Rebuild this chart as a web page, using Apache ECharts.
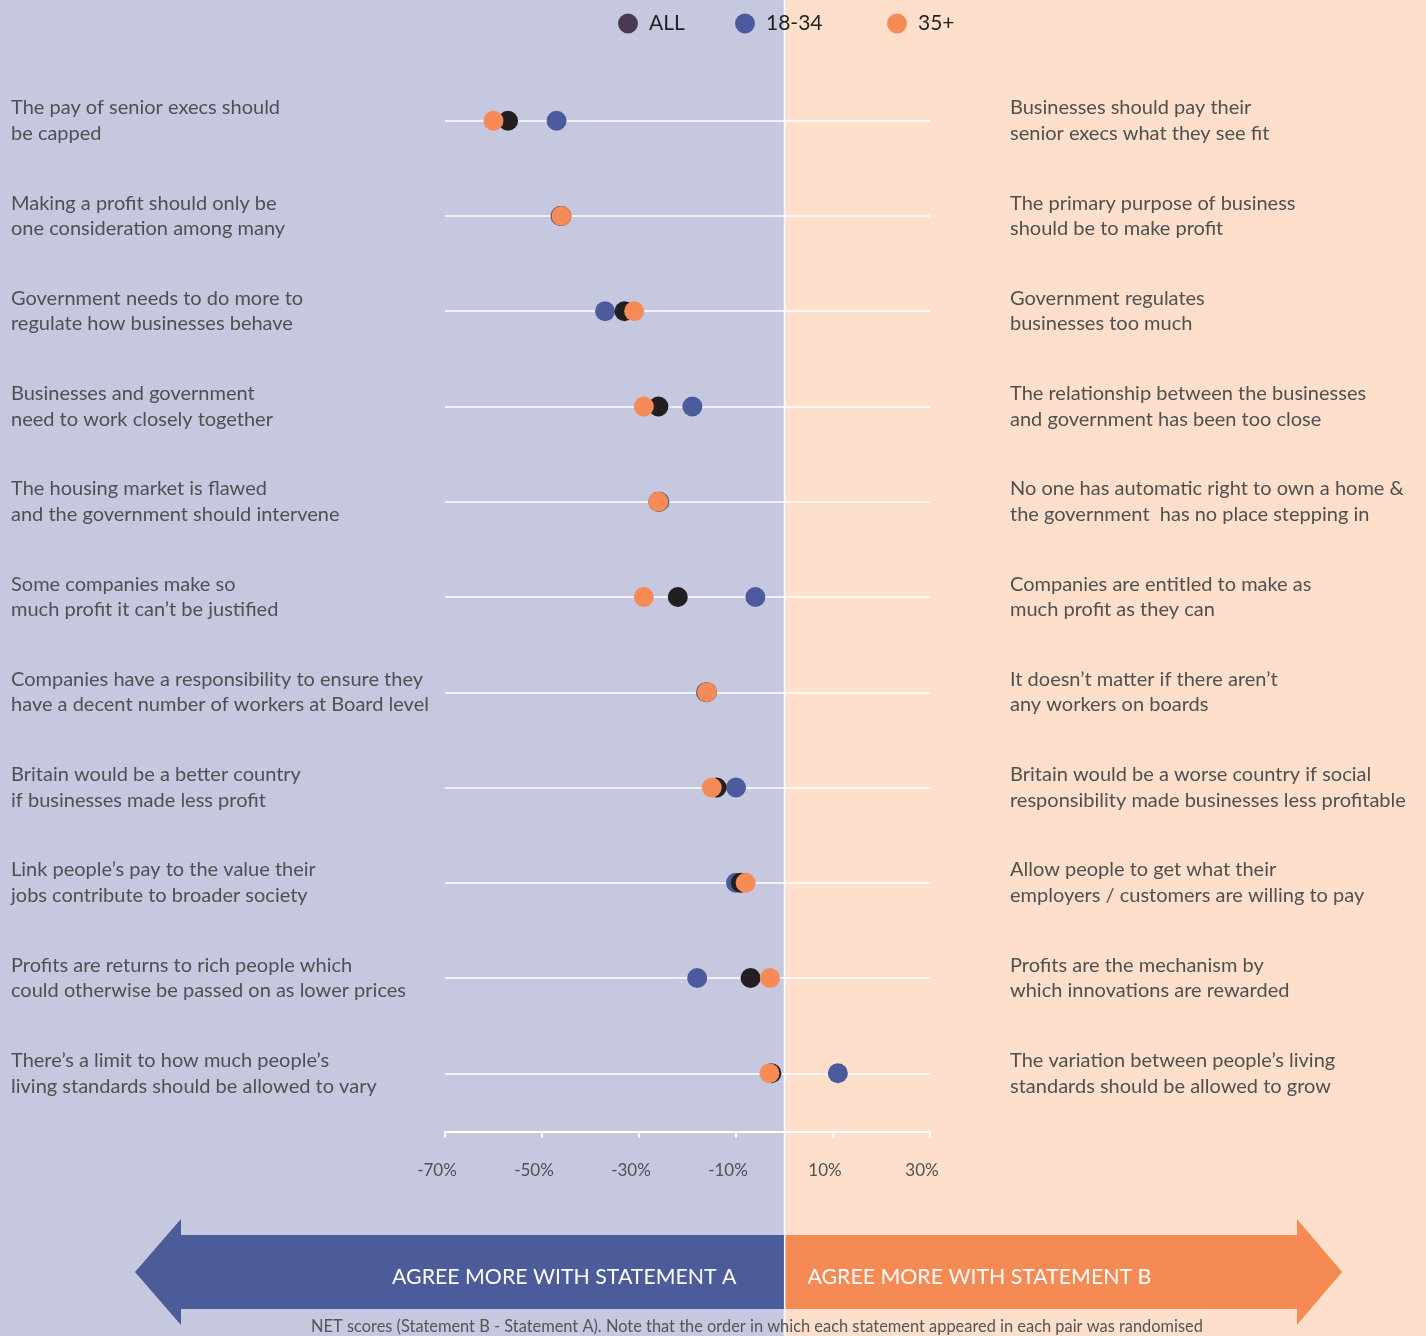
<!DOCTYPE html>
<html>
<head>
<meta charset="utf-8">
<script src="https://cdn.jsdelivr.net/npm/echarts@6/dist/echarts.min.js"></script>
<style>
html, body { margin: 0; padding: 0; }
#container { width: 1426px; height: 1336px; }
</style>
</head>
<body>
<div id="container"></div>
<script>
var statementsA = [
    "The pay of senior execs should\nbe capped",
    "Making a profit should only be\none consideration among many",
    "Government needs to do more to\nregulate how businesses behave",
    "Businesses and government\nneed to work closely together",
    "The housing market is flawed\nand the government should intervene",
    "Some companies make so\nmuch profit it can\u2019t be justified",
    "Companies have a responsibility to ensure they\nhave a decent number of workers at Board level",
    "Britain would be a better country\nif businesses made less profit",
    "Link people\u2019s pay to the value their\njobs contribute to broader society",
    "Profits are returns to rich people which\ncould otherwise be passed on as lower prices",
    "There\u2019s a limit to how much people\u2019s\nliving standards should be allowed to vary"
];
var statementsB = [
    "Businesses should pay their\nsenior execs what they see fit",
    "The primary purpose of business\nshould be to make profit",
    "Government regulates\nbusinesses too much",
    "The relationship between the businesses\nand government has been too close",
    "No one has automatic right to own a home &\nthe government  has no place stepping in",
    "Companies are entitled to make as\nmuch profit as they can",
    "It doesn\u2019t matter if there aren\u2019t\nany workers on boards",
    "Britain would be a worse country if social\nresponsibility made businesses less profitable",
    "Allow people to get what their\nemployers / customers are willing to pay",
    "Profits are the mechanism by\nwhich innovations are rewarded",
    "The variation between people\u2019s living\nstandards should be allowed to grow"
];
// NET scores, %
var allValues   = [-57, -46, -33, -26, -26, -22, -16, -14, -9, -7, -2.7];
var youngValues = [-47, -46.2, -37, -19, -25.8, -6, -16.2, -10, -10, -18, 11];
var olderValues = [-60, -46, -31, -29, -26, -29, -16, -15, -8, -3, -3.1];
var axisMin = -70, axisMax = 30, axisStep = 20;

var font = 'Lato, "Noto Sans", sans-serif';

function toPoints(values) {
    var pts = [];
    for (var i = 0; i < values.length; i++) {
        pts.push([values[i], i]);
    }
    return pts;
}

// one legend box per group, the gaps in the original are uneven
function legendFor(name, left, iconColor) {
    var item = { name: name };
    if (iconColor) {
        item.itemStyle = { color: iconColor };
    }
    return {
        left: left,
        top: 13,
        padding: 0,
        icon: 'circle',
        itemWidth: 20,
        itemHeight: 20,
        textStyle: { color: '#231f20', fontSize: 21, fontFamily: font, padding: [0, 0, 0, 6] },
        data: [item]
    };
}

var dom = document.getElementById("container");
var myChart = echarts.init(dom);

var option = {
    animation: false,
    grid: {
        left: 445,
        right: 496,
        top: 120.7,
        bottom: 262.7
    },
    legend: [
        legendFor('ALL', 618, '#4a3a4f'),
        legendFor('18-34', 735),
        legendFor('35+', 887)
    ],
    xAxis: {
        type: 'value',
        min: axisMin,
        max: axisMax,
        interval: axisStep,
        position: 'bottom',
        offset: 58.5,
        axisLine: { show: true, lineStyle: { color: '#ffffff', width: 2 } },
        axisTick: { show: true, length: 6, lineStyle: { color: '#ffffff', width: 2 } },
        axisLabel: {
            formatter: '{value}%',
            color: '#505050',
            fontSize: 17,
            fontFamily: font,
            margin: 30,
            padding: [0, 16, 0, 0]
        },
        splitLine: { show: false }
    },
    yAxis: [{
        type: 'category',
        data: statementsA,
        inverse: true,
        boundaryGap: false,
        position: 'left',
        axisLine: { show: false },
        axisTick: { show: false },
        axisLabel: {
            interval: 0,
            align: 'left',
            margin: 434,
            color: '#505050',
            fontSize: 20,
            lineHeight: 25.5,
            fontFamily: font
        },
        splitLine: { show: true, interval: 0, lineStyle: { color: '#ffffff', width: 1.5 } }
    }, {
        type: 'category',
        data: statementsB,
        inverse: true,
        boundaryGap: false,
        position: 'right',
        axisLine: { show: false },
        axisTick: { show: false },
        axisLabel: {
            interval: 0,
            align: 'left',
            margin: 80,
            color: '#505050',
            fontSize: 20,
            lineHeight: 25.5,
            fontFamily: font
        },
        splitLine: { show: false }
    }],
    series: [{
        name: '18-34',
        type: 'scatter',
        yAxisIndex: 0,
        symbolSize: 20,
        itemStyle: { color: '#4b5b9d', opacity: 1 },
        z: 2,
        data: toPoints(youngValues)
    }, {
        name: 'ALL',
        type: 'scatter',
        yAxisIndex: 0,
        symbolSize: 20,
        itemStyle: { color: '#231f20', opacity: 1 },
        z: 3,
        data: toPoints(allValues)
    }, {
        name: '35+',
        type: 'scatter',
        yAxisIndex: 0,
        symbolSize: 20,
        itemStyle: { color: '#f68b57', opacity: 1 },
        z: 4,
        data: toPoints(olderValues)
    }]
};
myChart.setOption(option);

// backgrounds and arrows hang off the zero line of the axis
var x0 = myChart.convertToPixel({ xAxisIndex: 0 }, 0);
var W = 1426, H = 1336;
myChart.setOption({
    graphic: [
        { type: 'rect', z: -20, silent: true, shape: { x: 0, y: 0, width: x0, height: H }, style: { fill: '#c5c8df' } },
        { type: 'rect', z: -20, silent: true, shape: { x: x0, y: 0, width: W - x0, height: H }, style: { fill: '#fddfcb' } },
        { type: 'line', z: -19, silent: true, shape: { x1: x0, y1: 0, x2: x0, y2: H }, style: { stroke: '#ffffff', lineWidth: 1.5 } },
        { type: 'polygon', z: -18, silent: true,
          shape: { points: [[x0 - 0.6, 1235], [181, 1235], [181, 1219], [135, 1272], [181, 1325], [181, 1309], [x0 - 0.6, 1309]] },
          style: { fill: '#4c5b9a' } },
        { type: 'polygon', z: -18, silent: true,
          shape: { points: [[x0 + 1, 1235], [1297, 1235], [1297, 1219], [1342, 1272], [1297, 1325], [1297, 1309], [x0 + 1, 1309]] },
          style: { fill: '#f58a55' } },
        { type: 'text', z: 10, silent: true, x: x0 - 48, y: 1277,
          style: { text: 'AGREE MORE WITH STATEMENT A', fill: '#ffffff', font: '21.3px ' + font, align: 'right', verticalAlign: 'middle' } },
        { type: 'text', z: 10, silent: true, x: x0 + 23, y: 1277,
          style: { text: 'AGREE MORE WITH STATEMENT B', fill: '#ffffff', font: '21.3px ' + font, align: 'left', verticalAlign: 'middle' } },
        { type: 'text', z: 10, silent: true, x: 757, y: 1327,
          style: { text: 'NET scores (Statement B - Statement A). Note that the order in which each statement appeared in each pair was randomised',
                   fill: '#555555', font: '16.4px ' + font, align: 'center', verticalAlign: 'middle' } }
    ]
});
</script>
</body>
</html>
